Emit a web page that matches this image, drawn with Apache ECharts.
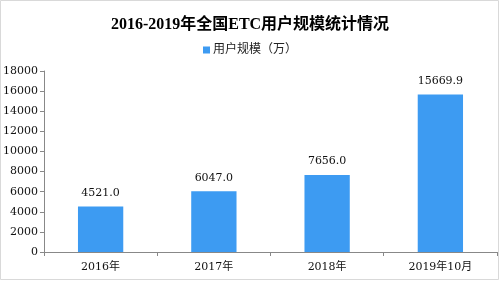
<!DOCTYPE html>
<html><head><meta charset="utf-8">
<script src="https://cdn.jsdelivr.net/npm/echarts@6/dist/echarts.min.js"></script>
<style>html,body{margin:0;padding:0;background:#fff}#c{width:500px;height:283px}</style>
</head><body><div id="c"></div>
<script>
const categories = ['2016年', '2017年', '2018年', '2019年10月'];
const values = [4521.0, 6047.0, 7656.0, 15669.9];
const seriesName = '用户规模（万）';
const titleText = '2016-2019年全国ETC用户规模统计情况';

const serif = '"Liberation Serif","Noto Sans CJK SC",serif';
const dserif = '"DejaVu Serif","Noto Sans CJK SC",serif';
const chart = echarts.init(document.getElementById('c'), null, {renderer: 'canvas'});
chart.setOption({
  backgroundColor: '#fff',
  animation: false,
  title: {
    text: titleText, left: 'center', top: 12,
    textStyle: {fontFamily: serif, fontSize: 16, fontWeight: 'bold', color: '#000'}
  },
  legend: {
    data: [seriesName], top: 39, left: 'center',
    itemWidth: 7, itemHeight: 7, itemGap: 4, icon: 'rect',
    textStyle: {fontFamily: serif, fontSize: 12, color: '#222', padding: [0,0,0,-2]}
  },
  grid: {left: 42, right: 3, top: 71, bottom: 31, containLabel: false},
  xAxis: {
    type: 'category', data: categories,
    axisLine: {lineStyle: {color: '#888'}},
    axisTick: {show: true, length: 4, lineStyle: {color: '#888'}},
    axisLabel: {fontFamily: dserif, fontSize: 11, color: '#111', margin: 10}
  },
  yAxis: {
    type: 'value', min: 0, max: 18000, interval: 2000,
    axisLine: {show: true, lineStyle: {color: '#888'}},
    axisTick: {show: true, length: 4, inside: false, lineStyle: {color: '#888'}},
    splitLine: {show: false},
    axisLabel: {fontFamily: dserif, fontSize: 11, color: '#111', margin: 6, formatter: v => String(v)}
  },
  series: [{
    name: seriesName, type: 'bar', data: values, barWidth: '40%',
    itemStyle: {color: '#3d9bf2'},
    label: {show: true, position: 'top', distance: 8, fontFamily: dserif, fontSize: 11, color: '#111',
      formatter: p => p.value.toFixed(1)}
  }],
  graphic: [{type: 'rect', shape: {x: 0.5, y: 0.5, width: 498, height: 279}, style: {fill: 'none', stroke: '#d9d9d9', lineWidth: 1}, silent: true}]
});
</script></body></html>
